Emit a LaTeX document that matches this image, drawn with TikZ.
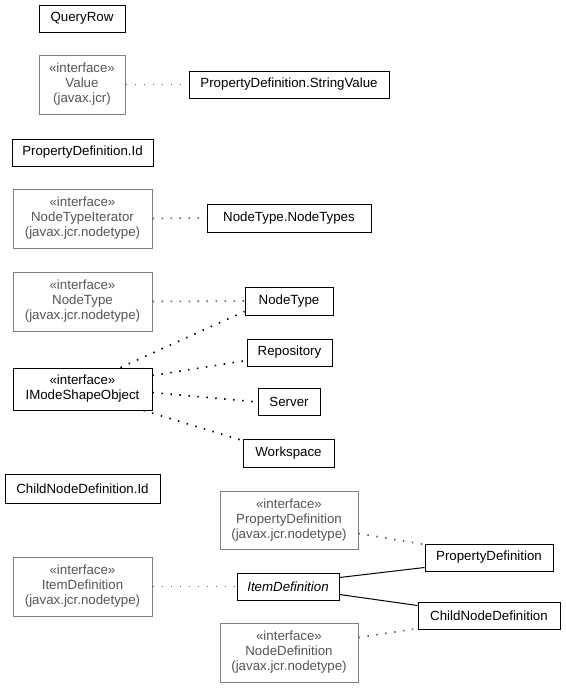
\documentclass[tikz,border=0pt]{standalone}
\usepackage{fontspec}
\setmainfont{Liberation Sans}
\begin{document}
\begin{tikzpicture}[x=1pt,y=-1pt,
  cls/.style={draw=black,line width=1pt,inner sep=0pt,align=center,font=\fontsize{13.3}{15}\selectfont},
  ifc/.style={draw=ifborder,text=iftext,line width=1pt,inner sep=0pt,align=center,font=\fontsize{13.3}{15}\selectfont},
  gdot/.style={draw=dotgray,line width=1.6pt,dash pattern=on 1.5pt off 7.5pt},
  bdot/.style={draw=black,line width=1.6pt,dash pattern=on 1.5pt off 7.5pt},
  solid line/.style={draw=black,line width=1pt}]
\definecolor{ifborder}{HTML}{808080}
\definecolor{iftext}{HTML}{555555}
\definecolor{dotgray}{HTML}{606060}
\useasboundingbox (0,0) rectangle (565,688);
\fill[white] (0,0) rectangle (565,688);
% nodes
\node[cls,minimum width=86,minimum height=27] (qr) at (82,18.5) {QueryRow};
\node[ifc,minimum width=86,minimum height=59] (val) at (82,84.5) {«interface»\\Value\\(javax.jcr)};
\node[cls,minimum width=200,minimum height=27] (sv) at (289,84.5) {PropertyDefinition.StringValue};
\node[cls,minimum width=141,minimum height=27] (pdid) at (82.5,152.5) {PropertyDefinition.Id};
\node[ifc,minimum width=139,minimum height=59] (nti) at (82.5,218.5) {«interface»\\NodeTypeIterator\\(javax.jcr.nodetype)};
\node[cls,minimum width=164,minimum height=28] (ntnt) at (289,218) {NodeType.NodeTypes};
\node[ifc,minimum width=139,minimum height=59] (nti2) at (82.5,301.5) {«interface»\\NodeType\\(javax.jcr.nodetype)};
\node[cls,minimum width=88,minimum height=28] (ntc) at (289,301) {NodeType};
\node[cls,minimum width=85,minimum height=27] (repo) at (289.5,352.5) {Repository};
\node[cls,minimum width=139,minimum height=42] (ims) at (82.5,389) {«interface»\\IModeShapeObject};
\node[cls,minimum width=62,minimum height=27] (srv) at (289,402) {Server};
\node[cls,minimum width=91,minimum height=28] (ws) at (288.5,453) {Workspace};
\node[cls,minimum width=155,minimum height=29] (cndid) at (82.5,488.5) {ChildNodeDefinition.Id};
\node[ifc,minimum width=138,minimum height=58] (pdi) at (289,520) {«interface»\\PropertyDefinition\\(javax.jcr.nodetype)};
\node[cls,minimum width=128,minimum height=27] (pdc) at (489,557.5) {PropertyDefinition};
\node[ifc,minimum width=139,minimum height=59] (idi) at (82.5,586.5) {«interface»\\ItemDefinition\\(javax.jcr.nodetype)};
\node[cls,minimum width=102,minimum height=27] (idc) at (288,586.5) {\itshape ItemDefinition};
\node[cls,minimum width=142,minimum height=27] (cnd) at (489,615.5) {ChildNodeDefinition};
\node[ifc,minimum width=138,minimum height=59] (ndi) at (289,652.5) {«interface»\\NodeDefinition\\(javax.jcr.nodetype)};
% connectors
\draw[gdot] (val.east) -- (sv.west);
\draw[gdot] (nti.east) -- (ntnt.west);
\draw[gdot] (nti2.east) -- (ntc.west);
\draw[bdot] ([xshift=-32]ims.north east) -- ([yshift=4]ntc.south west);
\draw[bdot] ([yshift=-8]ims.north east) -- ([yshift=6]repo.south west);
\draw[bdot] ([yshift=-25]ims.north east) -- (srv.west);
\draw[bdot] ([xshift=-9]ims.south east) -- ([yshift=-2]ws.north west);
\draw[gdot] ([yshift=16]pdi.south east) -- ([yshift=-1]pdc.north west);
\draw[gdot] (idi.east) -- (idc.west);
\draw[solid line] ([yshift=-5]idc.north east) -- ([yshift=4]pdc.south west);
\draw[solid line] ([yshift=6]idc.south east) -- ([yshift=-4]cnd.north west);
\draw[gdot] ([yshift=-15]ndi.north east) -- ([yshift=1]cnd.south west);
\end{tikzpicture}
\end{document}
